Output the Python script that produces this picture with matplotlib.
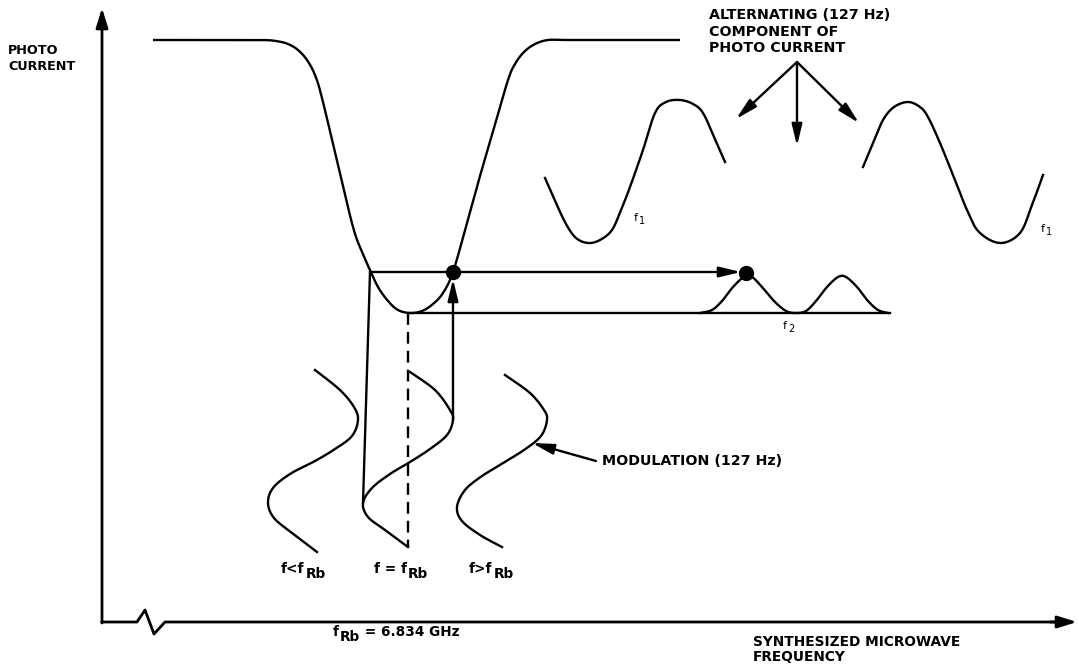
import numpy as np
import matplotlib
matplotlib.use('Agg')
import matplotlib.pyplot as plt

plt.rcParams['font.family'] = ['DejaVu Sans']

# ---------------- data (diagram units, y grows downward) ----------------
# main absorption (photo current) curve key points
main_x = [153, 190, 230, 262, 276, 288, 298, 307, 315, 322, 338, 353, 362, 370,
          378, 388, 398, 410, 422, 433, 443, 453, 467, 480, 494, 508, 515, 524,
          535, 548, 565, 600, 640, 680]
main_y = [40, 40, 40, 40, 41, 44, 50, 60, 75, 98, 165, 227, 252, 270,
          287, 301, 310, 313, 311, 304, 293, 272, 223, 176, 128, 80, 64, 52,
          44, 40, 40, 40, 40, 40]

# alternating component at f1 (left, f < fRb)
f1a_x = [545, 556, 566, 576, 588, 600, 612, 621, 630, 643, 655, 666, 680, 693, 703, 714, 725]
f1a_y = [178, 203, 224, 238, 243, 240, 230, 210, 187, 150, 113, 102, 100, 104, 113, 137, 162]
# alternating component at f1 (right, f > fRb)
f1b_x = [863, 873, 883, 894, 908, 920, 928, 940, 955, 967, 979, 1000, 1020, 1032, 1043]
f1b_y = [167, 143, 120, 107, 102, 107, 117, 143, 180, 210, 232, 243, 233, 205, 175]
# component at 2 f (f = fRb)
f2_x = [700, 712, 722, 733, 744, 752, 762, 774, 786, 796, 806, 816, 827, 838, 846, 857, 868, 878, 888]
f2_y = [313, 310, 301, 287, 277, 277, 287, 301, 311, 313, 311, 301, 287, 277, 277, 287, 301, 310, 313]

# modulation waveforms (x as function of y)
modL_x = [315, 340, 354, 358, 352, 335, 315, 290, 273, 268, 274, 292, 317]
modL_y = [370, 390, 407, 420, 436, 449, 461, 474, 488, 503, 518, 533, 552]
modM_x = [410, 435, 450, 453, 447, 430, 410, 390, 372, 363, 368, 385, 408]
modM_y = [372, 390, 410, 420, 435, 449, 462, 474, 488, 503, 517, 530, 547]
modR_x = [505, 530, 544, 547, 541, 524, 503, 482, 465, 457, 462, 480, 502]
modR_y = [375, 393, 410, 420, 436, 450, 463, 476, 490, 507, 521, 535, 547]

mod_labels = ['f<f', 'f = f', 'f>f']
mod_label_x = [281, 374, 469]


def smooth(xs, ys, n=16):
    P = np.column_stack([xs, ys]).astype(float)
    P = np.vstack([P[0], P, P[-1]])
    out = []
    t = np.linspace(0, 1, n, endpoint=False)[:, None]
    for i in range(1, len(P) - 2):
        p0, p1, p2, p3 = P[i - 1], P[i], P[i + 1], P[i + 2]
        seg = 0.5 * ((2 * p1) + (-p0 + p2) * t + (2 * p0 - 5 * p1 + 4 * p2 - p3) * t ** 2
                     + (-p0 + 3 * p1 - 3 * p2 + p3) * t ** 3)
        out.append(seg)
    out.append(P[-2][None])
    c = np.vstack(out)
    return c[:, 0], c[:, 1]


W, H = 1079, 666
fig = plt.figure(figsize=(W / 100, H / 100), dpi=100)
ax = fig.add_axes([0, 0, 1, 1])
ax.set_xlim(0, W)
ax.set_ylim(H, 0)
ax.axis('off')
fig.canvas.draw()
renderer = fig.canvas.get_renderer()

LW = 1.7
K = 'black'

def arrow(x0, y0, x1, y1, lw=LW, hl=1.0, hw=0.24, ms=13):
    ax.annotate('', xy=(x1, y1), xytext=(x0, y0),
                arrowprops=dict(arrowstyle=f'-|>,head_length={hl},head_width={hw}',
                                lw=lw, color=K, mutation_scale=ms,
                                shrinkA=0, shrinkB=0))

# axes
arrow(102, 623, 102, 8, lw=2.0, hl=0.9, hw=0.28)
ax.plot([102, 137, 145, 154, 165, 1060], [622, 622, 610, 634, 622, 622], color=K, lw=2.0)
arrow(1050, 622, 1077, 622, lw=2.0, hl=0.9, hw=0.28)

# main curve
x, y = smooth(main_x, main_y)
ax.plot(x, y, color=K, lw=LW, solid_capstyle='butt')

# alternating components
for xs, ys in [(f1a_x, f1a_y), (f1b_x, f1b_y), (f2_x, f2_y)]:
    x, y = smooth(xs, ys)
    ax.plot(x, y, color=K, lw=LW)

# baseline for f2 and horizontal arrow
ax.plot([410, 890], [313, 313], color=K, lw=LW)
arrow(370, 272, 741, 272)
ax.plot([453, 746], [272, 273], 'o', color=K, ms=10)

# modulation waveforms
for xs, ys in [(modL_x, modL_y), (modM_x, modM_y), (modR_x, modR_y)]:
    x, y = smooth(ys, xs)
    ax.plot(y, x, color=K, lw=LW)

# projection lines
ax.plot([370, 363], [272, 503], color=K, lw=LW)
ax.plot([408, 408], [313, 548], color=K, lw=LW, dashes=(5, 3))
arrow(453, 420, 453, 279)

# arrows from "alternating component" label
arrow(797, 62, 736, 119)
arrow(797, 62, 797, 146)
arrow(797, 62, 859, 123)

# modulation label arrow
arrow(596, 461, 532, 443)

# ---------------- text ----------------
def tk(fs):
    return dict(fontsize=fs, fontweight='bold', color=K, va='center', ha='left')


def text_sub(x, y, main, sub, after='', fsz=9.8, sfs=9.8, dy=5, **kw):
    t = ax.text(x, y, main, fontsize=fsz, color=K, va='center', ha='left', **kw)
    bb = t.get_window_extent(renderer=renderer)
    inv = ax.transData.inverted()
    x1 = inv.transform((bb.x1, bb.y0))[0] + 1
    s = ax.text(x1, y + dy, sub, fontsize=sfs, color=K, va='center', ha='left', **kw)
    if after:
        bb2 = s.get_window_extent(renderer=renderer)
        x2 = inv.transform((bb2.x1, bb2.y0))[0]
        ax.text(x2, y, after, fontsize=fsz, color=K, va='center', ha='left', **kw)


ax.text(8, 51, 'PHOTO', **tk(9.2))
ax.text(8, 66, 'CURRENT', **tk(9.2))
ax.text(709, 15, 'ALTERNATING (127 Hz)', **tk(10.3))
ax.text(709, 32, 'COMPONENT OF', **tk(10.3))
ax.text(709, 48, 'PHOTO CURRENT', **tk(10.3))
ax.text(602, 461, 'MODULATION (127 Hz)', **tk(10.3))
ax.text(753, 642, 'SYNTHESIZED MICROWAVE', **tk(9.9))
ax.text(753, 657, 'FREQUENCY', **tk(9.9))
text_sub(333, 632, 'f', 'Rb', ' = 6.834 GHz', fontweight='bold')
for lab, lx in zip(mod_labels, mod_label_x):
    text_sub(lx, 569, lab, 'Rb', fontweight='bold')
text_sub(634, 218, 'f', '1', fsz=8, sfs=7, dy=3)
text_sub(1041, 229, 'f', '1', fsz=8, sfs=7, dy=3)
text_sub(783, 326, 'f', '2', fsz=8, sfs=7, dy=3)

fig.savefig('out.png', dpi=100, facecolor='white')
